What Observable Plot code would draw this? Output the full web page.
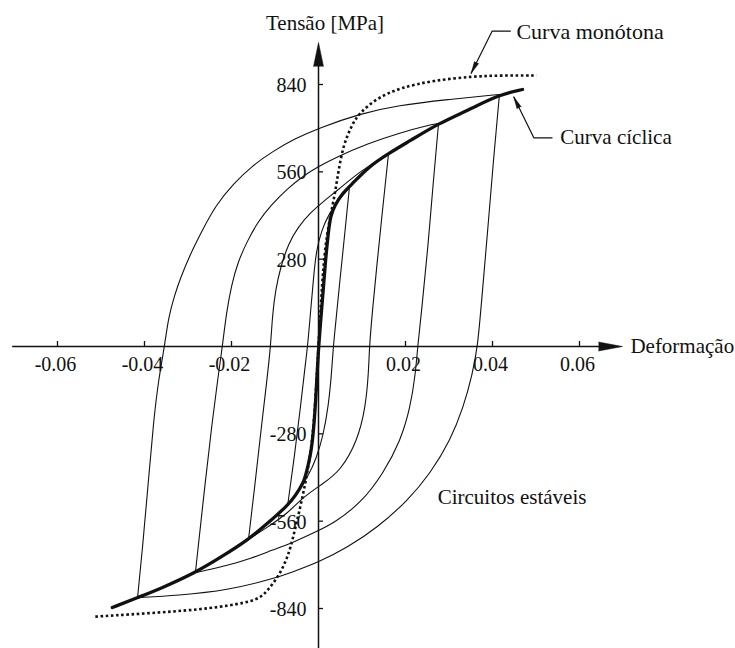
<!DOCTYPE html>
<html>
<head>
<meta charset="utf-8">
<script src="https://cdn.jsdelivr.net/npm/d3@7"></script>
<script src="https://cdn.jsdelivr.net/npm/@observablehq/plot@0.6"></script>
<style>
  html, body { margin: 0; padding: 0; background: #fff; }
  #chart svg { display: block; }
</style>
</head>
<body>
<div id="chart"></div>
<script>
// Axis ticks
const strainTicks = [-0.06, -0.04, -0.02, 0.02, 0.04, 0.06];
const strainTickLabels = ["-0.06", "-0.04", "-0.02", "0.02", "0.04", "0.06"];
const stressTicks = [840, 560, 280, -280, -560, -840];
const stressTickLabels = ["840", "560", "280", "-280", "-560", "-840"];

// Curves as [strain, stress (MPa)]
const monotonicCurve = [
  [-0.0513, -866], [-0.0363, -853], [-0.0248, -840], [-0.0163, -821], [-0.0133, -805],
  [-0.0117, -782], [-0.0094, -741], [-0.0076, -692], [-0.0064, -644], [-0.0053, -580],
  [-0.0041, -510], [-0.0030, -436], [-0.0021, -365], [-0.0011, -269], [0, 0],
  [0.0011, 276], [0.0023, 388], [0.0030, 436], [0.0039, 500], [0.0046, 564],
  [0.0057, 644], [0.0074, 702], [0.0092, 747], [0.0136, 798], [0.0189, 830],
  [0.0264, 853], [0.0354, 866], [0.0418, 869], [0.0501, 869]
];

const cyclicCurve = [
  [-0.0474, -837], [-0.0416, -805], [-0.0363, -776], [-0.0283, -725], [-0.0225, -676],
  [-0.0161, -619], [-0.0117, -567], [-0.0071, -510], [-0.0053, -478], [-0.0034, -436],
  [-0.0028, -404], [-0.0018, -349], [-0.0011, -269], [-0.0005, -141], [0, 0],
  [0.0009, 147], [0.0016, 276], [0.0023, 372], [0.0028, 420], [0.0037, 452],
  [0.0055, 491], [0.0074, 516], [0.0113, 574], [0.0161, 619], [0.0211, 660],
  [0.0276, 715], [0.0343, 757], [0.0416, 808], [0.0469, 824]
];

// Stable hysteresis loops: loading branch (from compressive tip) and unloading branch
const loop1Up = [
  [-0.0416, -805], [-0.0405, -654], [-0.0391, -430], [-0.0379, -237], [-0.0368, -109],
  [-0.0354, 0], [-0.0345, 93], [-0.0331, 164], [-0.0317, 221], [-0.0294, 298],
  [-0.0271, 362], [-0.0237, 452], [-0.0195, 523], [-0.0152, 580], [-0.0103, 628],
  [-0.0053, 667], [-0.0002, 699], [0.0097, 747], [0.0182, 773], [0.0297, 792], [0.0416, 808]
];
const loop1Down = [
  [0.0416, 808], [0.0402, 596], [0.0389, 372], [0.0375, 147], [0.0366, 0],
  [0.0354, -87], [0.0333, -196], [0.0303, -301], [0.0257, -407], [0.0205, -494],
  [0.0136, -580], [0.0067, -644], [0, -692], [-0.0064, -725], [-0.0103, -744],
  [-0.0209, -782], [-0.0324, -798], [-0.0416, -805]
];
const loop2Up = [
  [-0.0283, -725], [-0.0260, -430], [-0.0244, -237], [-0.0232, -109], [-0.0221, 0],
  [-0.0211, 115], [-0.0200, 196], [-0.0186, 269], [-0.0163, 340], [-0.0140, 398],
  [-0.0110, 452], [-0.0071, 507], [-0.0034, 548], [0, 577], [0.0039, 606],
  [0.0113, 651], [0.0189, 686], [0.0251, 709], [0.0276, 715]
];
const loop2Down = [
  [0.0276, 715], [0.0264, 532], [0.0251, 308], [0.0237, 115], [0.0228, 0],
  [0.0223, -87], [0.0211, -196], [0.0189, -301], [0.0149, -407], [0.0097, -503],
  [0.0034, -567], [0, -590], [-0.0064, -632], [-0.0103, -651], [-0.0156, -680],
  [-0.0209, -702], [-0.0283, -725]
];
const loop3Up = [
  [-0.0161, -619], [-0.0145, -430], [-0.0131, -253], [-0.0120, -125], [-0.0110, 0],
  [-0.0106, 99], [-0.0099, 180], [-0.0087, 256], [-0.0069, 330], [-0.0046, 385],
  [-0.0018, 430], [0.0011, 465], [0.0046, 503], [0.0092, 558], [0.0161, 619]
];
const loop3Down = [
  [0.0161, 619], [0.0147, 436], [0.0133, 244], [0.0124, 115], [0.0117, 0],
  [0.0115, -87], [0.0108, -196], [0.0090, -301], [0.0051, -398], [0.0011, -439],
  [-0.0034, -481], [-0.0071, -535], [-0.0115, -577], [-0.0161, -619]
];
const loop4Up = [
  [-0.0071, -510], [-0.0055, -349], [-0.0041, -189], [-0.0032, -77], [-0.0025, 0],
  [-0.0018, 115], [-0.0011, 228], [-0.0005, 308], [0.0007, 372], [0.0023, 423],
  [0.0046, 468], [0.0071, 510]
];
const loop4Down = [
  [0.0071, 510], [0.0060, 356], [0.0048, 196], [0.0039, 67], [0.0034, 0],
  [0.0030, -87], [0.0023, -189], [0.0011, -285], [-0.0005, -359], [-0.0023, -414],
  [-0.0046, -462], [-0.0071, -510]
];

const loopBranches = [loop1Up, loop1Down, loop2Up, loop2Down, loop3Up, loop3Down, loop4Up, loop4Down];

// Annotation leaders (polyline ending at the arrow tip)
const monotonicLeader = [[0.0441, 1011], [0.0399, 1011], [0.0351, 876]];
const cyclicLeader = [[0.0537, 669], [0.0495, 669], [0.0449, 800]];

const ink = "#111";
const sx = d => d[0];
const sy = d => d[1];

const marks = [];

// hysteresis loops
for (const branch of loopBranches) {
  marks.push(Plot.line(branch, {x: sx, y: sy, curve: "basis", stroke: ink, strokeWidth: 1.1}));
}

// monotonic curve (dotted)
marks.push(Plot.line(monotonicCurve, {
  x: sx, y: sy, curve: "basis", stroke: ink, strokeWidth: 2.6,
  strokeDasharray: "2.6,2.6", strokeLinecap: "butt"
}));

// cyclic curve (heavy)
marks.push(Plot.line(cyclicCurve, {x: sx, y: sy, curve: "basis", stroke: ink, strokeWidth: 3.3}));

// axes through the origin
marks.push(Plot.ruleY([0], {x1: -0.0703, x2: 0.0680, stroke: ink, strokeWidth: 1.5}));
marks.push(Plot.ruleX([0], {y1: -975, y2: 940, stroke: ink, strokeWidth: 1.5}));
marks.push(Plot.vector([0], {x: 0.0699, y: 0, rotate: 90, length: 24, r: 4.5, shape: "spike", anchor: "end", fill: ink, stroke: ink, strokeWidth: 0.5}));
marks.push(Plot.vector([0], {x: 0, y: 975, rotate: 0, length: 24, r: 5, shape: "spike", anchor: "end", fill: ink, stroke: ink, strokeWidth: 0.5}));

// ticks
marks.push(Plot.ruleX(strainTicks, {x: d => d, y1: 0, y2: 16, stroke: ink, strokeWidth: 1.3}));
marks.push(Plot.ruleY(stressTicks, {y: d => d, x1: 0, x2: 0.00115, stroke: ink, strokeWidth: 1.3}));

// tick labels
marks.push(Plot.text(strainTicks, {
  x: d => d, y: 0, text: (d, i) => strainTickLabels[i], dy: 18, dx: -2,
  textAnchor: "middle", fontSize: 20, fill: ink
}));
marks.push(Plot.text(stressTicks, {
  x: 0, y: d => d, text: (d, i) => stressTickLabels[i], dx: -12, dy: 1,
  textAnchor: "end", fontSize: 20, fill: ink
}));

// axis titles
marks.push(Plot.text(["Tensão [MPa]"], {x: 0.0015, y: 1035, text: d => d, textAnchor: "middle", fontSize: 21, fill: ink}));
marks.push(Plot.text(["Deformação"], {x: 0.0717, y: 0, text: d => d, textAnchor: "start", fontSize: 21, fill: ink}));

// annotations
marks.push(Plot.line(monotonicLeader, {x: sx, y: sy, stroke: ink, strokeWidth: 1.2}));
marks.push(Plot.vector([monotonicLeader[2]], {x: sx, y: sy, rotate: 206.6, length: 12, r: 2.3, shape: "spike", anchor: "end", fill: ink, stroke: ink, strokeWidth: 0.5}));
marks.push(Plot.line(cyclicLeader, {x: sx, y: sy, stroke: ink, strokeWidth: 1.2}));
marks.push(Plot.vector([cyclicLeader[2]], {x: sx, y: sy, rotate: 333.9, length: 12, r: 2.3, shape: "spike", anchor: "end", fill: ink, stroke: ink, strokeWidth: 0.5}));

marks.push(Plot.text(["Curva monótona"], {x: 0.0455, y: 1009, text: d => d, textAnchor: "start", fontSize: 22, fill: ink}));
marks.push(Plot.text(["Curva cíclica"], {x: 0.0556, y: 670, text: d => d, textAnchor: "start", fontSize: 21, fill: ink}));
marks.push(Plot.text(["Circuitos estáveis"], {x: 0.0274, y: -484, text: d => d, textAnchor: "start", fontSize: 21, fill: ink}));

const chart = Plot.plot({
  width: 735,
  height: 648,
  margin: 0,
  x: {domain: [-0.06, 0.06], range: [57, 579], axis: null},
  y: {domain: [-840, 840], range: [608, 84], axis: null},
  style: {
    fontFamily: "'Liberation Serif', 'Times New Roman', serif",
    fontSize: "20px",
    color: ink,
    background: "#fff",
    overflow: "visible"
  },
  marks
});

document.getElementById("chart").appendChild(chart);
</script>
</body>
</html>
